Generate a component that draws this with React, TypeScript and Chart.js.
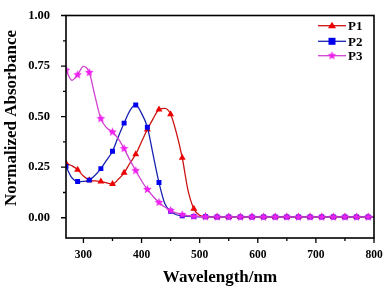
import React, { useEffect, useRef } from "react";
import { Chart, registerables } from "chart.js";
Chart.register(...registerables);

const wavelengths = [
  270, 280, 290, 300, 310, 320, 330, 340, 350, 360, 370, 380, 390, 400, 410, 420, 430, 440, 450, 460,
  470, 480, 490, 500, 510, 520, 530, 540, 550, 560, 570, 580, 590, 600, 610, 620, 630, 640, 650, 660,
  670, 680, 690, 700, 710, 720, 730, 740, 750, 760, 770, 780, 790, 800,
];
const p1 = [
  0.27, 0.257, 0.238, 0.206, 0.186, 0.182, 0.179, 0.173, 0.167, 0.19, 0.222, 0.27, 0.314, 0.376, 0.436, 0.49,
  0.535, 0.541, 0.512, 0.42, 0.297, 0.135, 0.044, 0.012, 0.006, 0.005, 0.004, 0.004, 0.004, 0.004, 0.004,
  0.004, 0.004, 0.004, 0.004, 0.004, 0.004, 0.004, 0.004, 0.004, 0.004, 0.004, 0.004, 0.004, 0.004, 0.004,
  0.004, 0.004, 0.004, 0.004, 0.004, 0.004, 0.004, 0.004,
];
const p2 = [
  0.254, 0.198, 0.179, 0.18, 0.186, 0.21, 0.243, 0.285, 0.329, 0.4, 0.468, 0.53, 0.558, 0.516, 0.448, 0.31,
  0.174, 0.071, 0.032, 0.015, 0.01, 0.007, 0.006, 0.005, 0.005, 0.004, 0.004, 0.004, 0.004, 0.004, 0.004,
  0.004, 0.004, 0.004, 0.004, 0.004, 0.004, 0.004, 0.004, 0.004, 0.004, 0.004, 0.004, 0.004, 0.004, 0.004,
  0.004, 0.004, 0.004, 0.004, 0.004, 0.004, 0.004, 0.004,
];
const p3 = [
  0.73, 0.68, 0.707, 0.748, 0.718, 0.6, 0.49, 0.445, 0.424, 0.39, 0.342, 0.285, 0.233, 0.183, 0.14, 0.105,
  0.076, 0.053, 0.036, 0.024, 0.015, 0.01, 0.007, 0.006, 0.005, 0.004, 0.004, 0.004, 0.004, 0.004, 0.004,
  0.004, 0.004, 0.004, 0.004, 0.004, 0.004, 0.004, 0.004, 0.004, 0.004, 0.004, 0.004, 0.004, 0.004, 0.004,
  0.004, 0.004, 0.004, 0.004, 0.004, 0.004, 0.004, 0.004,
];
const seriesNames = ["P1", "P2", "P3"];
const xTicks = [300, 400, 500, 600, 700, 800];
const xMinorTicks = [350, 450, 550, 650, 750];
const yTicks = [0, 0.25, 0.5, 0.75, 1.0];
const yMinorTicks = [0.125, 0.375, 0.625, 0.875];
const xTitle = "Wavelength/nm";
const yTitle = "Normalized Absorbance";

const FONT = "'Liberation Serif', 'Times New Roman', serif";

function makeStar(color: string, r: number) {
  const c = document.createElement("canvas");
  const s = Math.ceil(r * 2 + 2);
  c.width = s;
  c.height = s;
  const g = c.getContext("2d")!;
  g.beginPath();
  for (let i = 0; i < 10; i++) {
    const a = -Math.PI / 2 + (i * Math.PI) / 5;
    const rr = i % 2 === 0 ? r : r * 0.45;
    g.lineTo(s / 2 + rr * Math.cos(a), s / 2 + rr * Math.sin(a));
  }
  g.closePath();
  g.fillStyle = color;
  g.fill();
  return c;
}

export default function App() {
  const ref = useRef<HTMLCanvasElement>(null);
  useEffect(() => {
    const star = makeStar("#ee22ee", 4.5);
    const lineColors = ["#cc1111", "#1a22b0", "#d040d0"];
    const markColors = ["#ee0000", "#0000ee", "#ee22ee"];
    const styles: any[] = ["triangle", "rect", star];
    const radii = [4, 3.5, 4];
    const all = [p1, p2, p3];
    const markerRadius = (i: number) => (ctx: any) => (ctx.dataIndex % 2 === 0 ? radii[i] : 0);

    const framePlugin = {
      id: "frame",
      afterDraw(chart: any) {
        const { ctx, chartArea: a, scales } = chart;
        const xs = scales.x;
        const ys = scales.y;
        ctx.save();
        ctx.strokeStyle = "#000";
        ctx.lineWidth = 1.6;
        ctx.strokeRect(a.left, a.top, a.right - a.left, a.bottom - a.top);
        ctx.lineWidth = 1.3;
        ctx.beginPath();
        xTicks.forEach((v) => {
          const px = xs.getPixelForValue(v);
          ctx.moveTo(px, a.bottom);
          ctx.lineTo(px, a.bottom + 5);
        });
        xMinorTicks.forEach((v) => {
          const px = xs.getPixelForValue(v);
          ctx.moveTo(px, a.bottom);
          ctx.lineTo(px, a.bottom + 3);
        });
        yTicks.forEach((v) => {
          const py = ys.getPixelForValue(v);
          ctx.moveTo(a.left, py);
          ctx.lineTo(a.left - 5, py);
        });
        yMinorTicks.forEach((v) => {
          const py = ys.getPixelForValue(v);
          ctx.moveTo(a.left, py);
          ctx.lineTo(a.left - 3, py);
        });
        ctx.stroke();

        // axis titles
        ctx.fillStyle = "#000";
        ctx.font = `bold 17px ${FONT}`;
        ctx.textAlign = "center";
        ctx.textBaseline = "alphabetic";
        ctx.fillText(xTitle, (a.left + a.right) / 2, 282);
        ctx.save();
        ctx.translate(15.5, 118);
        ctx.rotate(-Math.PI / 2);
        ctx.fillText(yTitle, 0, 0);
        ctx.restore();

        // legend
        const ly = [25.7, 41.3, 55.7];
        ctx.font = `bold 13px ${FONT}`;
        ctx.textAlign = "left";
        ctx.textBaseline = "middle";
        seriesNames.forEach((n, i) => {
          const y = ly[i];
          ctx.strokeStyle = lineColors[i];
          ctx.lineWidth = 1.3;
          ctx.beginPath();
          ctx.moveTo(318, y);
          ctx.lineTo(346, y);
          ctx.stroke();
          ctx.fillStyle = markColors[i];
          const cx = 332;
          if (i === 0) {
            ctx.beginPath();
            ctx.moveTo(cx, y - 4);
            ctx.lineTo(cx + 4, y + 2.5);
            ctx.lineTo(cx - 4, y + 2.5);
            ctx.closePath();
            ctx.fill();
          } else if (i === 1) {
            ctx.fillRect(cx - 3.5, y - 3.5, 7, 7);
          } else {
            ctx.drawImage(star, cx - star.width / 2, y - star.height / 2);
          }
          ctx.fillStyle = "#000";
          ctx.fillText(n, 348, y + 1);
        });
        ctx.restore();
      },
    };

    const chart = new Chart(ref.current!, {
      type: "line",
      data: {
        datasets: all.map((vals, i) => ({
          label: seriesNames[i],
          data: wavelengths.map((w, k) => ({ x: w, y: vals[k] })),
          borderColor: lineColors[i],
          borderWidth: 1.3,
          backgroundColor: markColors[i],
          pointBackgroundColor: markColors[i],
          pointBorderColor: markColors[i],
          pointBorderWidth: 0,
          pointStyle: styles[i],
          pointRadius: markerRadius(i),
          cubicInterpolationMode: "monotone" as const,
          fill: false,
          clip: 0,
          order: 3 - i,
        })),
      },
      options: {
        responsive: false,
        animation: false,
        events: [],
        layout: { padding: { top: 8, right: 13, left: 0, bottom: 0 } },
        plugins: { legend: { display: false }, tooltip: { enabled: false } },
        scales: {
          x: {
            type: "linear",
            min: 270,
            max: 800,
            grid: { display: false },
            border: { display: false },
            afterBuildTicks: (s: any) => {
              s.ticks = xTicks.map((v) => ({ value: v }));
            },
            afterFit: (s: any) => {
              s.height = 52;
            },
            ticks: {
              color: "#000",
              padding: 2,
              maxRotation: 0,
              font: { family: FONT, size: 11.5, weight: "bold" },
              callback: (v: any) => String(v),
            },
          },
          y: {
            type: "linear",
            min: -0.1,
            max: 1.0,
            grid: { display: false },
            border: { display: false },
            afterBuildTicks: (s: any) => {
              s.ticks = yTicks.map((v) => ({ value: v }));
            },
            afterFit: (s: any) => {
              s.width = 66;
            },
            ticks: {
              color: "#000",
              padding: 8,
              font: { family: FONT, size: 12.5, weight: "bold" },
              callback: (v: any) => Number(v).toFixed(2),
            },
          },
        },
      },
      plugins: [framePlugin],
    });
    return () => chart.destroy();
  }, []);
  return (
    <div style={{ position: "fixed", left: 0, top: 0, width: 387, height: 290, background: "#fff" }}>
      <canvas ref={ref} width={387} height={290} style={{ display: "block" }} />
    </div>
  );
}
